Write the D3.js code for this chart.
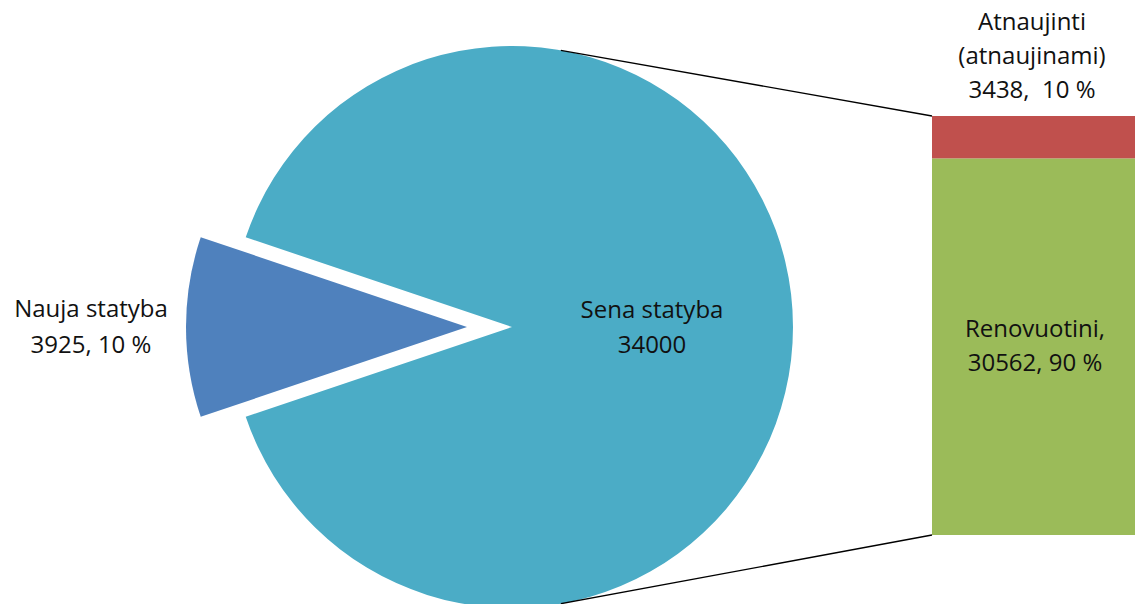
<!DOCTYPE html>
<html>
<head>
<meta charset="utf-8">
<script src="https://cdn.jsdelivr.net/npm/d3@7"></script>
<style>
  body { margin: 0; background: #fff; }
  text { font-family: "Open Sans", Lato, sans-serif; fill: #111; white-space: pre; }
</style>
</head>
<body>
<svg id="chart" width="1135" height="604"></svg>
<script>
// Duomenys
const pieNames = ["Nauja statyba", "Sena statyba"];
const pieValues = [3925, 34000];
const pieColors = ["#4F81BD", "#4BACC6"];

const barNames = ["Renovuotini,", "Atnaujinti"];
const barValues = [30562, 3438];
const barColors = ["#9BBB59", "#C0504D"];

const pieLabels = [["Nauja statyba", "3925, 10 %"], ["Sena statyba", "34000"]];
const barLabels = [["Renovuotini,", "30562, 90 %"], ["Atnaujinti", "(atnaujinami)", "3438,  10 %"]];

const svg = d3.select("#chart");

// Pyragas
const cx = 512, cy = 327, r = 281, explode = 45;
const total = d3.sum(pieValues);
const smallAngle = pieValues[0] / total * 2 * Math.PI;
const start = -Math.PI / 2 - smallAngle / 2;

const pie = d3.pie().sort(null).startAngle(start).endAngle(start + 2 * Math.PI);
const arcs = pie(pieValues);
const arc = d3.arc().innerRadius(0).outerRadius(r);

const gPie = svg.append("g").attr("transform", `translate(${cx},${cy})`);
gPie.selectAll("path")
  .data(arcs)
  .enter().append("path")
  .attr("d", arc)
  .attr("fill", (d, i) => pieColors[i])
  .attr("transform", (d, i) => {
    if (i !== 0) return null;
    const mid = (d.startAngle + d.endAngle) / 2;
    return `translate(${Math.sin(mid) * explode},${-Math.cos(mid) * explode})`;
  });

// Stulpelis
const barX = 932, barW = 210;
const y = d3.scaleLinear().domain([0, d3.sum(barValues)]).range([535, 116]);
let acc = 0;
const stack = barValues.map(v => { const s = { y0: acc, y1: acc + v }; acc += v; return s; });

svg.selectAll(".bar")
  .data(stack)
  .enter().append("rect")
  .attr("class", "bar")
  .attr("x", barX)
  .attr("width", barW)
  .attr("y", d => y(d.y1))
  .attr("height", d => y(d.y0) - y(d.y1))
  .attr("fill", (d, i) => barColors[i]);

// Jungiamosios linijos
const lineAngle = 10 * Math.PI / 180;
const lines = [
  { a: lineAngle, x2: barX, y2: y(d3.sum(barValues)) },
  { a: Math.PI - lineAngle, x2: barX, y2: y(0) }
];
svg.selectAll(".conn")
  .data(lines)
  .enter().append("line")
  .attr("class", "conn")
  .attr("x1", d => cx + Math.sin(d.a) * r)
  .attr("y1", d => cy - Math.cos(d.a) * r)
  .attr("x2", d => d.x2)
  .attr("y2", d => d.y2)
  .attr("stroke", "#000")
  .attr("stroke-width", 1.3);

// Užrašai
function label(lines, x, yTop, step) {
  const t = svg.append("text")
    .attr("text-anchor", "middle")
    .style("font-size", "24px");
  lines.forEach((s, i) => {
    t.append("tspan").attr("x", x).attr("y", yTop + i * step).attr("dy", "0.35em").text(s);
  });
}
label(pieLabels[0], 91, 309, 36);
label(pieLabels[1], 652, 310, 35);
label(barLabels[1], 1032, 22, 34);
label(barLabels[0], 1035, 329, 34);
</script>
</body>
</html>
